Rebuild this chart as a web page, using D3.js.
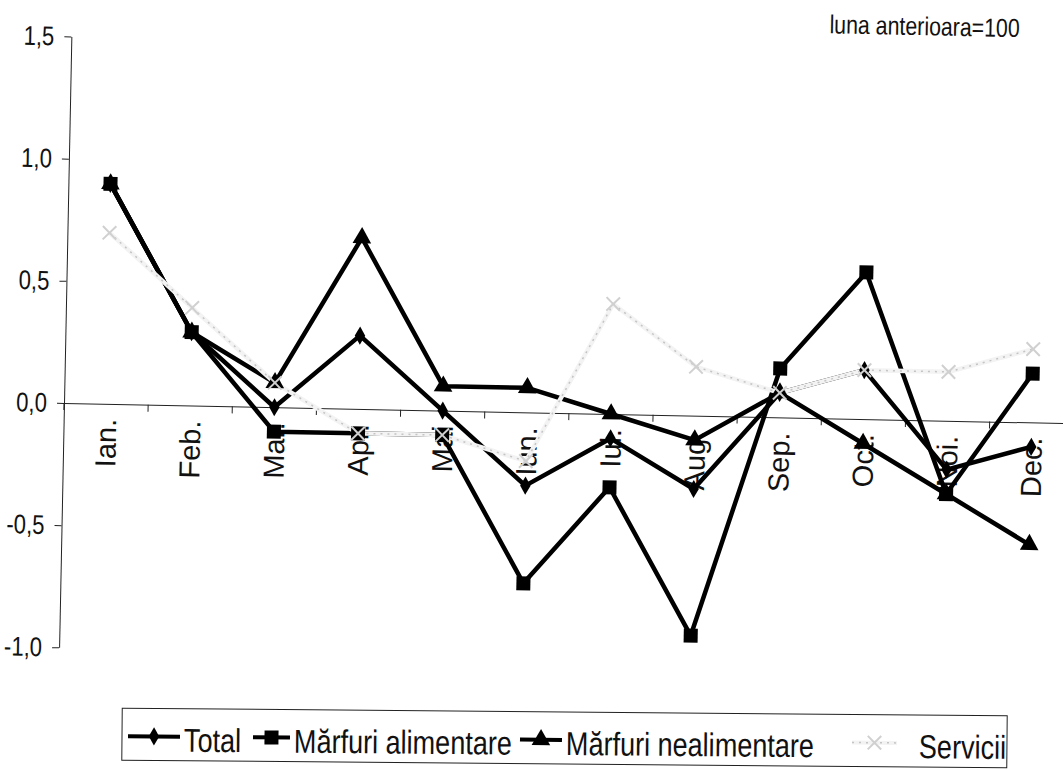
<!DOCTYPE html>
<html>
<head>
<meta charset="utf-8">
<script src="https://cdn.jsdelivr.net/npm/d3@7/dist/d3.min.js"></script>
<style>
  body { margin: 0; background: #fff; }
  svg { display: block; }
</style>
</head>
<body>
<div class="chart"></div>
<script>
// Data (luna anterioara = 100)
var months = ["Ian.", "Feb.", "Mar.", "Apr.", "Mai", "Iun.", "Iul.", "Aug.", "Sep.", "Oct.", "Noi.", "Dec."];
var total = [0.9, 0.3, 0.0, 0.3, 0.0, -0.3, -0.1, -0.3, 0.1, 0.2, -0.2, -0.1];
var alimentare = [0.9, 0.3, -0.1, -0.1, -0.1, -0.7, -0.3, -0.9, 0.2, 0.6, -0.3, 0.2];
var nealimentare = [0.9, 0.3, 0.1, 0.7, 0.1, 0.1, 0.0, -0.1, 0.1, -0.1, -0.3, -0.5];
var servicii = [0.7, 0.4, 0.1, -0.1, -0.1, -0.2, 0.45, 0.2, 0.1, 0.2, 0.2, 0.3];
var seriesNames = ["Total", "Mărfuri alimentare", "Mărfuri nealimentare", "Servicii"];
var yTicks = [-1, -0.5, 0, 0.5, 1, 1.5];
var note = "luna anterioara=100";

var font = "'Liberation Sans', Arial, sans-serif";
var squeeze = 0.82;   // no narrow font installed, so squeeze the text

// Create svg container
var vis = d3.select(".chart").append("svg")
            .attr("width", 1063)
            .attr("height", 770)
            .style("font-family", font);

// the scan is a little tilted, so the plot sits in a rotated group
var g = vis.append("g").attr("transform", "rotate(1.15,64,403)");

var x = d3.scaleBand().domain(months).range([64, 1074]);
var y = d3.scaleLinear().domain([-1, 1.5]).range([647.4, 36.4]);
function cx(i) { return x(months[i]) + x.bandwidth() / 2; }

// Y axis
var yAxis = g.append("g")
  .attr("transform", "translate(64,0)")
  .call(d3.axisLeft(y)
    .tickValues(yTicks)
    .tickSize(7)
    .tickSizeOuter(0)
    .tickFormat(function(d) { return d3.format(".1f")(d).replace(".", ",").replace("\u2212", "-"); }));
yAxis.select(".domain").attr("stroke", "#222");
yAxis.selectAll(".tick line").attr("stroke", "#222");
yAxis.selectAll("text")
  .attr("x", 0)
  .attr("transform", "translate(-17,0) scale(" + squeeze + ",1)")
  .style("font-size", "27px")
  .attr("fill", "#111");

// X axis at zero, labels turned on their side
var xAxis = g.append("g")
  .attr("transform", "translate(0," + y(0) + ")")
  .call(d3.axisBottom(x).tickSize(0).tickSizeOuter(0));
xAxis.select(".domain").attr("stroke", "#222");
xAxis.selectAll(".tick text")
  .attr("transform", "rotate(-90)")
  .attr("x", -15)
  .attr("y", 0)
  .attr("dy", "0.36em")
  .attr("text-anchor", "end")
  .style("font-size", "29px")
  .attr("fill", "#111");

// tick marks between the months
xAxis.selectAll(".bound")
  .data(d3.range(months.length + 1))
  .enter().append("line")
  .attr("class", "bound")
  .attr("x1", function(i) { return x.range()[0] + i * x.step(); })
  .attr("x2", function(i) { return x.range()[0] + i * x.step(); })
  .attr("y1", 0)
  .attr("y2", 7)
  .attr("stroke", "#222");

// Series: lines first, then markers (Servicii very light on top)
var series = [
  { name: seriesNames[0], values: total, shape: d3.symbolDiamond, size: 95, color: "#000" },
  { name: seriesNames[1], values: alimentare, shape: d3.symbolSquare, size: 196, color: "#000" },
  { name: seriesNames[2], values: nealimentare, shape: d3.symbolTriangle, size: 150, color: "#000" },
  { name: seriesNames[3], values: servicii, shape: d3.symbolX, size: 120, color: "#f3f3f3" }
];

var line = d3.line()
  .x(function(d, i) { return cx(i); })
  .y(function(d) { return y(d); });

g.selectAll(".series")
  .data(series)
  .enter().append("path")
  .attr("class", "series")
  .attr("d", function(s) { return line(s.values); })
  .attr("fill", "none")
  .attr("stroke", function(s) { return s.color; })
  .attr("stroke-width", 4.5)
  .attr("stroke-linejoin", "round");

// faint dotted trace of the grey series, as it came out in the scan
g.append("path")
  .attr("d", line(servicii))
  .attr("fill", "none")
  .attr("stroke", "#c4c4c4")
  .attr("stroke-width", 1.5)
  .attr("stroke-dasharray", "2,5");

function drawMarker(sel, s) {
  var p = sel.append("path").attr("d", d3.symbol().type(s.shape).size(s.size)());
  if (s.shape === d3.symbolX) {
    p.attr("fill", "none").attr("stroke", "#d0d0d0").attr("stroke-width", 2);
  } else {
    p.attr("fill", "#000");
  }
}

series.forEach(function(s) {
  s.values.forEach(function(v, i) {
    var m = g.append("g").attr("transform", "translate(" + cx(i) + "," + y(v) + ")");
    drawMarker(m, s);
  });
});

// Legend (tilted less than the plot in the scan)
var legend = vis.append("g").attr("transform", "rotate(0.5,565,738)");
legend.append("rect")
  .attr("x", 122).attr("y", 712)
  .attr("width", 885).attr("height", 52)
  .attr("fill", "none")
  .attr("stroke", "#222")
  .attr("stroke-width", 1);

var legendX = [128, 253, 520, 852];
var legendW = [52, 37, 42, 45];
series.forEach(function(s, i) {
  var item = legend.append("g").attr("transform", "translate(" + legendX[i] + ",740)");
  item.append("line")
    .attr("x1", 0).attr("x2", legendW[i])
    .attr("stroke", s.color)
    .attr("stroke-width", 4);
  if (i === 3) {
    item.append("line")
      .attr("x1", 0).attr("x2", legendW[i])
      .attr("stroke", "#c4c4c4")
      .attr("stroke-width", 1.5)
      .attr("stroke-dasharray", "2,5");
  }
  var m = item.append("g").attr("transform", "translate(" + legendW[i] / 2 + ",0)");
  drawMarker(m, s);
  item.append("text")
    .attr("transform", "translate(" + (legendW[i] + 4 + (i === 3 ? 18 : 0)) + ",15) scale(" + squeeze + ",1)")
    .style("font-size", "33px")
    .attr("fill", "#111")
    .text(s.name);
});

// note in the corner
g.append("text")
  .attr("transform", "translate(1012,18) scale(" + squeeze + ",1)")
  .attr("text-anchor", "end")
  .style("font-size", "26px")
  .attr("fill", "#111")
  .text(note);
</script>
</body>
</html>
